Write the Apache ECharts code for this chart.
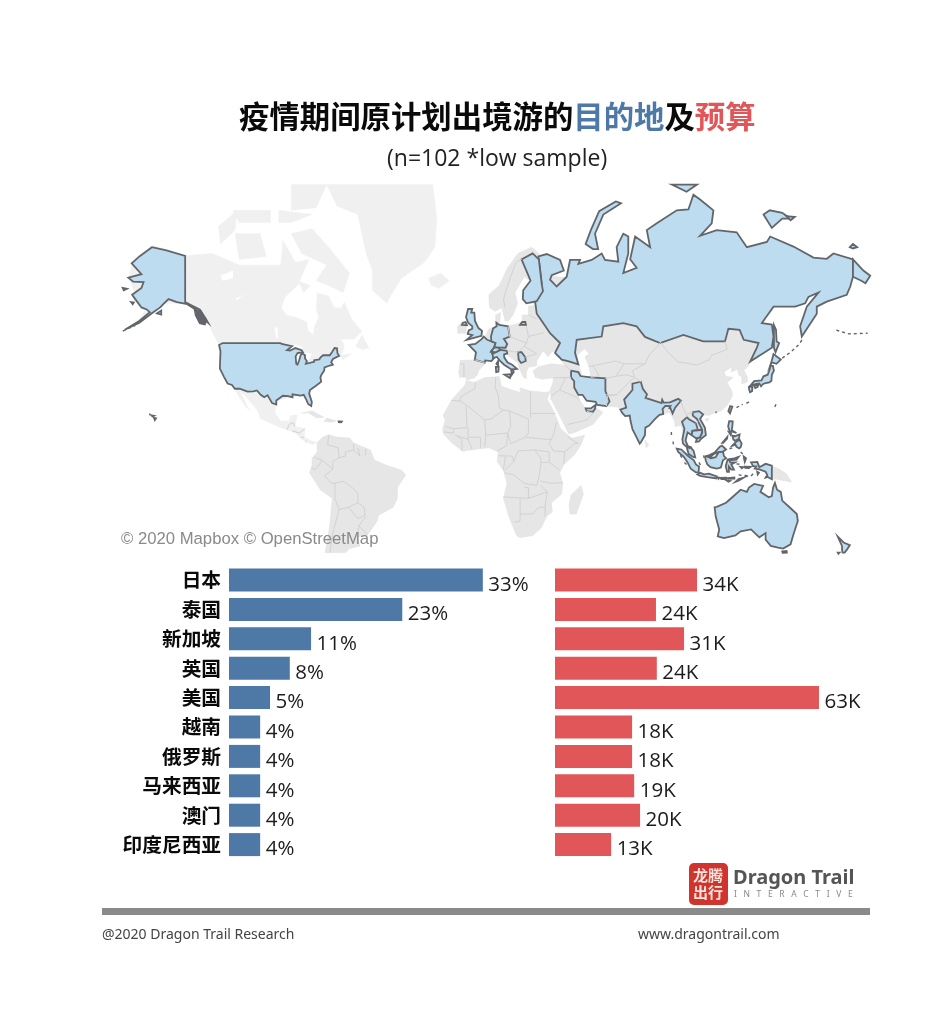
<!DOCTYPE html>
<html><head><meta charset="utf-8">
<style>html,body{margin:0;padding:0;background:#fff}#c{width:936px;height:1014px}</style>
<script src="https://cdn.jsdelivr.net/npm/echarts@6/dist/echarts.min.js"></script>
</head><body><div id="c"></div>
<script>
const destinations=['日本','泰国','新加坡','英国','美国','越南','俄罗斯','马来西亚','澳门','印度尼西亚'];
const shareValues=[33.4,22.8,10.8,8.0,5.4,4.1,4.1,4.1,4.1,4.1];
const budgetValues=[33.9,24.1,30.8,24.3,63.0,18.4,18.4,18.9,20.3,13.4];

const paleLand={
 Greenland:[[-73,78.7],[-68,76.5],[-58,75.5],[-54,70],[-51,67],[-51,63],[-44,60],[-42,62],[-37,65.5],[-26,68.5],[-21,71],[-20,75],[-22,78.7]],
 Baffin:[[-90,73],[-80,73.7],[-72,71],[-62,66.5],[-65,62.5],[-72,64],[-78,65],[-73,68],[-85,70]],
 Victoria:[[-117,73],[-105,73],[-102,69.5],[-115,69]],
 Banks:[[-125,74],[-116,76],[-117,73.5],[-124,71.5]],
 Ellesmere:[[-90,78.7],[-73,78.7],[-78,76.3],[-90,76]],
 Devon:[[-96,76],[-80,75.5],[-90,74.5],[-96,74.5]],
 Melville:[[-118,76],[-100,76],[-100,74.5],[-115,74.5]],
 Southampton:[[-87,65],[-81,64],[-84,62.5]],
 Newfoundland:[[-59,48],[-56,51.5],[-52.7,47.5],[-56,46.8]],
 Iceland:[[-24,65.5],[-18,66.5],[-14,65],[-19,63.4],[-22.5,64]],
 NorthAmerica:[[-168,65.7],[-166.5,68.3],[-156.5,71.3],[-141,69.6],[-128,70],[-115,68],[-108,68],[-95,68],[-94,72],[-88,68.5],[-81.5,69],[-85,66],[-87,64],[-93,61.5],[-94.8,59],[-92.5,57],[-88,56.5],[-82.5,55.2],[-82,52.9],[-79.5,51.5],[-78.8,54],[-76.8,56.5],[-78,58.7],[-77.5,62.4],[-72,61.7],[-69.5,59],[-66,58.8],[-64.5,60.3],[-61,56],[-56,52.5],[-60,50.2],[-66.5,50.2],[-65,49],[-64.5,47.5],[-66,45],[-61,45.5],[-65,43.5],[-67,44.8],[-74,40.7],[-81,32],[-80.4,25.2],[-84,30],[-89.4,29],[-97.2,27.6],[-97.8,22.2],[-95,18.5],[-91,18.7],[-90.4,21],[-87,21.4],[-88.3,16],[-83.5,15.2],[-83.7,11],[-80,9.2],[-77.5,8.5],[-80,7.5],[-85,10],[-88,13],[-92,14.5],[-96,15.8],[-105,19.8],[-106,23],[-112.5,30],[-114.7,31.5],[-111,25],[-109.5,23],[-112,25],[-115,29],[-117.1,32.5],[-124,40],[-124.7,48.4],[-130,54.7],[-140,60],[-151,60],[-164,55],[-160,58.5],[-165,62]]
};
const greyLand={
 Africa:[[-5.9,35.8],[-2,35],[3,36.9],[10,37.3],[11,33.5],[15,32.3],[20,31],[20,32.8],[25,31.6],[32,31],[34.2,31.3],[33,28],[35.5,24],[37,21],[39.5,15],[43.3,11.8],[45,10.5],[51,12],[49,7],[46,2.5],[41,-2],[39,-6],[40.5,-11],[40,-16],[35,-20],[35.5,-24],[32.8,-26],[30,-31],[26,-34],[20,-34.8],[18.3,-34],[15,-27],[12,-18],[13.7,-11],[12,-5],[9,-0.5],[9.5,4],[5,6],[-4,5],[-7.5,4.3],[-13,8.5],[-16.8,12.5],[-17.3,14.7],[-16,19],[-17,21],[-13,27.7],[-9.7,31],[-6.5,34]],
 Madagascar:[[49.3,-12],[50.4,-16],[47,-25],[44,-25],[43.5,-21],[44.5,-16.5]],
 SouthAmerica:[[-77.5,8.5],[-75,11],[-72,12.2],[-68,11],[-62,10.7],[-60,8.3],[-52,5],[-50,0],[-44,-2.5],[-37,-4.8],[-35,-7],[-39,-13],[-39,-18],[-41,-22],[-48,-25.5],[-48.7,-28],[-53.5,-34],[-58,-34.5],[-57,-38],[-62,-39],[-64,-40.5],[-73.7,-40.5],[-71.5,-30],[-70.3,-18],[-76,-14],[-81.2,-6],[-80,-2.5],[-80,1],[-77.5,4]],
 Cuba:[[-85,22],[-80,23.1],[-74.2,20.2],[-78,20],[-82,22.4]],
 Hispaniola:[[-74.4,18.5],[-72.8,19.9],[-68.4,18.6],[-71,18]],
 Ireland:[[-10,52],[-6,52],[-6,54],[-8,55.2],[-10,54]],
 SriLanka:[[80,9.7],[81.8,7.5],[80.6,6]],
 Hainan:[[108.7,19.3],[110.8,20],[110,18.3]],
 Korea:[[124.5,40],[130.5,42.4],[129.5,41],[127.5,39.7],[129.3,37],[129.3,35.2],[126.5,34.4],[126.6,37],[125,38]],
 Eurasia:[[-9,37],[-9.5,38.7],[-8.8,43.2],[-1.8,43.4],[-1.2,46],[-4.7,48.4],[-1.5,48.7],[1.5,50.2],[3.5,51.4],[5,53.3],[8.5,53.8],[8.2,57],[10.6,57.7],[10.2,55],[11,54],[14.2,54],[18.5,54.7],[21,55.2],[21,57],[24,57.1],[24,59.3],[28,59.6],[30,60],[23,60],[21.3,61],[21.5,63],[25,65],[22,65.8],[17.5,62.5],[18.8,60],[16.5,57],[14.3,55.5],[12.8,55.5],[11.2,59],[8,58],[5.3,59],[5,62],[10,64],[14,67.5],[19,70],[25.5,71],[29,70],[32,66],[60,65],[100,68],[140,64],[145,61],[137,56],[138,50],[133,44],[131,42.8],[130.5,42.4],[124.5,40],[121.5,39],[121.7,40.9],[118,39],[119,37.3],[122.5,37],[119.5,35],[121.8,31.5],[122,29.5],[119.5,25.5],[116.5,23],[113.5,22.2],[110.5,21],[108,21.5],[106,19.5],[108.8,15.5],[109.3,12],[106,9],[104.8,8.7],[105,10],[102.5,12],[100.7,13.5],[99.5,10],[100.3,7],[103.4,4.5],[104.2,1.4],[101,3],[100.3,5.5],[98.3,8],[98.5,12],[97.5,16.5],[94.5,16],[94.3,18.5],[91.8,22.4],[89,21.8],[87,21.3],[85,19.6],[82,16.5],[80,15],[80,12],[78,8.5],[76,11],[74,15],[73,19],[72.7,21],[70.5,20.8],[69,22.3],[67,24.8],[61.5,25.2],[57,25.7],[56.3,27],[52,27.5],[50,30],[48,30],[48.5,28],[50,26],[51.5,24.2],[54,24.2],[56.3,26],[56.5,24.5],[59.8,22.5],[55,17],[45,12.8],[43.3,12.7],[39,21],[35,28],[34.5,28],[34.9,29.5],[34.2,31.3],[35.8,35],[36,36.8],[30.5,36.3],[27.3,37],[26.3,39.5],[29,41],[35,42],[41.5,41.5],[39,44],[37,45],[39,47],[35,46],[33.5,44.5],[31,46.5],[28,43],[28,41.3],[24,40.8],[23,39],[23,36.5],[21.5,37],[19.3,41],[19,42.3],[14,45],[13.8,45.6],[12.3,45.3],[12.4,44.2],[14,42.5],[16,41.8],[18.5,40.2],[16.9,39],[16,38],[15.7,40],[12.3,41.7],[10.5,43],[8.8,44.4],[7,44],[6.2,43],[3.2,43.2],[3,41.8],[0,39.5],[-0.5,38],[-2,36.8],[-5.5,36],[-6.5,37]],
 PapuaNewGuinea:[[141,-2.6],[145,-4.5],[148,-6.5],[150.5,-10.4],[147,-9.8],[143,-9],[141,-9.1]]
};
const waterCutouts={
 Caspian:[[47.5,45],[51,47],[53,45.5],[51,44.5],[53,41],[53.8,37],[50,37.3],[49,40],[47.8,43]],
 Superior:[[-92,46.8],[-88.4,48.5],[-85,47.8],[-84.7,46.6],[-87,46.5]],
 Michigan:[[-87.9,44.6],[-85.5,45.9],[-86.3,43],[-87,41.7],[-87.6,42]],
 Huron:[[-84.5,46],[-80,45.5],[-81.6,43.2],[-83.4,43.9],[-83.4,45]],
 Erie:[[-83,42],[-79,43],[-79,42.6],[-82.5,41.4]],
 Ontario:[[-79.7,43.4],[-76.3,44.1],[-76.4,43.5],[-79,43.2]],
 Winnipeg:[[-98,53.7],[-96.6,53.6],[-96.5,50.5],[-97.2,50.5]],
 GreatSlave:[[-117,61],[-109,62.8],[-113,62],[-116,60.8]],
 GreatBear:[[-124,66],[-118,67],[-118,65.5],[-123,65]],
 Baikal:[[104,51.6],[110,55.5],[109,55.6],[104.5,52]]
};
const visitedLand={
 Russia:[[30.4,64.3],[29,69],[28.8,69.5],[32.8,69.9],[39.2,68.9],[41,67],[35.2,66.1],[34.4,65.2],[37.6,63.8],[42.4,65.8],[44,68.9],[48.8,68.9],[48,68.2],[54.4,68.9],[59.2,70],[60.8,68.9],[67.2,68.6],[66.4,71],[69.6,73],[72,72.6],[72,70],[69.6,66.5],[76,67.5],[72.9,69],[75.3,72.6],[82.5,71],[80.9,73.5],[85.7,74.4],[95.3,76],[100.9,76.1],[103.3,77.7],[106.5,77.2],[112.9,76],[112.1,74.4],[106.5,72.7],[114.5,73.5],[124.1,73.2],[129,71],[138.6,71.8],[140.2,72.6],[151.4,71.1],[161,69.3],[167.4,69.1],[170.6,70],[180,69],[180,65.8],[178.7,63.8],[177,62],[167.4,60.4],[162.6,59.2],[162.6,57.4],[155.4,51],[154.6,54],[157.8,59.2],[163.4,62.5],[158.6,61.5],[157,60],[152.2,59.2],[141.8,59.2],[136.2,54.9],[141,54.5],[141.8,51],[141,47.5],[130.6,42.8],[133.8,47.5],[134.6,49],[127.5,50],[125.5,53],[120.1,53.3],[118.5,49.5],[108,49.5],[98.5,51.5],[87.3,49],[80,50.9],[76,54],[69.6,54.9],[60,54],[59.2,51],[47.2,50],[46.4,45.8],[48,41.8],[43,43],[40,43.5],[36.8,45.8],[39.2,49],[34.4,52],[31,55],[28,57.4],[27.2,60.4]],
 RussiaEast:[[180,69],[185,67],[188.3,66],[186,64.5],[184,65],[180,65.8]],
 Kaliningrad:[[20,54.4],[22.8,54.4],[22.5,55.2],[21,55.2]],
 Sakhalin:[[142,54.3],[143,53],[143.3,49.5],[144.5,49],[142.8,46],[142,47.5],[142,50.5]],
 NovayaZemlya:[[51.5,71.5],[55,70.7],[57.5,70.7],[56,73],[60,75.5],[68.5,76.8],[66,77],[58,75.9],[54,73.5]],
 Severnaya:[[93,78.7],[105,78.7],[100,78]],
 NewSiberian:[[137,75.5],[141,73.8],[146,75],[150,75],[146,75.7],[140,76]],
 Kotelny:[[148,75.3],[150,74.8],[152,75.2]],
 Wrangel:[[178.5,71],[180,71.5],[182,71],[180,70.8]],
 Finland:[[21.3,61],[21.5,63],[25,65],[24,66],[20.7,69],[26,70],[29,69],[30.4,64.3],[31,62.8],[28,60.5],[23,60]],
 UnitedKingdom:[[-5.7,50],[1.4,51.2],[1.7,52.7],[0,53.5],[-1.7,55.5],[-2,57.7],[-3.5,57.7],[-3,58.6],[-5,58.6],[-6,56.5],[-5,55],[-3,54],[-3,53.3],[-4.7,52.8],[-5.2,51.8],[-3,51.4]],
 NorthernIreland:[[-8,54.4],[-5.6,54.3],[-6.2,55.2],[-7.5,55]],
 France:[[-4.7,48.4],[-1.5,48.7],[1.5,50.2],[2.5,51],[4.2,50],[8.2,49],[7.5,47.6],[6.1,46.3],[7.5,44],[6.2,43],[3.2,43.2],[3,42.4],[-1.8,43.4],[-1.2,46]],
 Corsica:[[8.6,42],[9.4,43],[9.4,41.5]],
 Germany:[[6,51],[7,53.4],[8.7,54],[8.6,55],[10,54.4],[14.2,54],[15,51],[12.2,50.3],[13.8,48.7],[13,47.5],[7.6,47.6],[8.2,49],[6.2,49.5]],
 Switzerland:[[6,46.2],[7.6,47.6],[9.6,47.5],[10.4,46.8],[8.5,46]],
 Italy:[[6.8,45.5],[7,44],[8.8,44.4],[10.5,43],[12.3,41.7],[15.7,40],[16,38],[16.9,39],[16.5,40],[18.5,40.2],[16,41.8],[14,42.5],[12.4,44.2],[12.3,45.3],[13.8,45.6],[13.7,46.5],[10.5,46.8],[8.5,46]],
 Sardinia:[[8.3,40.9],[9.7,41],[9.6,39.2],[8.5,39]],
 Sicily:[[12.5,38],[15.6,38.2],[15.1,36.7]],
 Serbia:[[19,46],[20.7,46],[22.5,44.3],[22.7,43],[20.5,42.3],[19.3,43.5]],
 Iran:[[44.5,39.5],[48,39],[49,37.5],[54,37],[61,36.6],[61,31.5],[63,27.2],[61.5,25.2],[57,25.7],[56.3,27],[52,27.5],[50,30],[48,30],[46,33],[46,35.5],[44.5,37]],
 UAE:[[51.5,24.2],[54,24.2],[56.3,25.8],[56,24],[55,22.7],[52,23]],
 India:[[68.2,23.7],[71,24.5],[70,28],[74,32],[74,34.5],[78,35.3],[79,32.5],[81,30.2],[80.3,28.7],[88,26.5],[88.3,27.9],[89,26.7],[92,26.8],[96,28.3],[97.3,27.5],[94.5,24.5],[93.3,22],[92,24.8],[91.5,24],[92.3,25.2],[89.8,25.3],[88.5,24],[88.8,21.7],[87,21.3],[85,19.6],[82,16.5],[80.2,15.5],[80,12],[78,8.5],[77.5,8],[76,11],[74,14.8],[73,19],[72.7,21],[70.5,20.8],[69,22.3]],
 Thailand:[[98,10],[98.3,8],[100,6.5],[101.5,5.8],[102,6.2],[100.5,7],[99.5,9.5],[100.5,13.3],[102.5,12],[102.8,14],[105.5,14.3],[104.5,17.5],[101,19.5],[100.2,20.3],[97.8,18.2],[99,15]],
 Cambodia:[[102.5,12],[104.5,10.5],[106.5,11],[107.5,13],[107.5,14.5],[105.5,14.3],[102.8,14]],
 Vietnam:[[104.5,8.8],[105,10.3],[106.5,11],[107.5,13],[107.5,14.5],[105.5,18.5],[105,19.5],[103,21],[103,22.5],[106,23],[108,21.5],[106.5,19.5],[108.8,15.5],[109.3,12],[107,10.3],[106,9]],
 MalaysiaPeninsula:[[100.2,6.5],[101.5,5.8],[102,6.2],[103.4,4.5],[104.2,1.4],[103.4,1.5],[101,3],[100.3,5.5]],
 Kalimantan:[[109,1.5],[109.6,2],[111.7,1],[114,1.5],[115.5,4],[117.5,4.2],[118,2],[119,1],[117.5,0],[116.5,-3.5],[114.5,-4],[111.5,-3.3],[110,-2],[109.2,0]],
 Sabah:[[109.6,2],[111.5,1.6],[113,3],[115.5,4],[117.5,4.2],[119,5.2],[117,7],[116,6.5],[113.5,3.7],[111,2.5]],
 Sumatra:[[95.3,5.6],[97.5,5.2],[100.5,2.3],[103.5,0],[104.5,-2],[106,-3],[105.8,-5.8],[104.5,-5.8],[102,-4],[100.5,-1],[98.7,1.7],[96,4]],
 Java:[[105.2,-6.8],[106.5,-6],[108.5,-6.7],[110.8,-6.4],[114.5,-7.7],[114.4,-8.7],[110,-8.1],[106.5,-7.5]],
 Bali:[[115,-8.2],[115.6,-8.3],[115.4,-8.8]],
 Lombok:[[116,-8.4],[119,-8.3],[119,-9],[116.8,-9]],
 Flores:[[119.8,-8.5],[123,-8.2],[123,-8.8],[120,-8.9]],
 Sumba:[[119.2,-9.6],[120.8,-9.9],[120.2,-10.2]],
 Timor:[[123.5,-10.3],[125,-9],[127.3,-8.4],[125,-9.8]],
 Sulawesi:[[119.5,-5.5],[120.4,-5.5],[120.3,-3],[121.5,-4.5],[122.8,-4.5],[121.5,-2],[123.3,-1],[121,-1],[120.3,0.5],[123,0.9],[125,1.6],[124,0.3],[120.5,0],[119.7,0.2],[118.8,-2.7]],
 Halmahera:[[127.5,1.8],[128.6,1],[128,-0.7],[127.7,0.5]],
 Seram:[[128,-3],[130.8,-3.1],[130,-3.7],[128.2,-3.6]],
 Buru:[[126,-3.2],[127.2,-3.3],[126.6,-3.8]],
 Aru:[[134,-5.5],[134.8,-6],[134.2,-6.8]],
 PapuaIndonesia:[[131,-1],[134,-0.8],[135,-3.3],[138,-1.7],[141,-2.6],[141,-9.1],[139,-8],[138,-8.3],[138.8,-7],[138,-5.5],[135,-4.4],[132.8,-4],[133.5,-3],[132,-2.8]],
 Luzon:[[120.5,18.5],[122.2,18.4],[122,16],[121.7,14.3],[124,13],[124,12.6],[122.5,13.5],[120.7,13.8],[120,16]],
 Visayas:[[122,11.8],[123.2,11.5],[125.5,12.4],[125.2,10.3],[123.3,9.3],[122.5,10]],
 Mindoro:[[120.4,13.4],[121.4,13],[121.2,12.2]],
 Palawan:[[117.2,8.4],[119.6,11.2],[119.5,10.4],[117.6,8.4]],
 Mindanao:[[122,7],[123.5,8.6],[125.5,9.8],[126.5,8],[126,6.3],[125.3,5.7],[124,6.5],[123.5,7.5]],
 Taiwan:[[121,25.2],[122,25],[120.9,22],[120.1,23]],
 HongKong:[[113.9,22.5],[114.5,22.5],[114.2,22.1]],
 Honshu:[[130.9,34],[132.5,35.5],[136,35.8],[137,37.4],[139,38],[140,40],[140.3,41.3],[141.5,41.3],[142,39.5],[141,38],[140.8,35.7],[139.8,35],[138,34.7],[136.8,34.4],[135.8,33.5],[135,34.6],[132.5,34.2]],
 Kyushu:[[130,33.3],[131.7,33.6],[131.5,31.5],[130.5,31.1],[130,32.5]],
 Shikoku:[[132.5,33.8],[134.5,34.2],[134.2,33.3],[133,32.8]],
 Hokkaido:[[140.3,41.6],[141,43.2],[141.8,45.4],[145.3,43.5],[143.2,42],[141,42.5]],
 Australia:[[113.5,-22],[114,-26],[115.7,-31.5],[115,-34.3],[118,-35],[123.5,-33.9],[126,-32.3],[131,-31.5],[135,-34.7],[138,-33],[138,-35.6],[140.5,-38],[144,-38.7],[146.4,-39],[150,-37.4],[151.3,-33.8],[153.5,-28],[153,-25],[149.5,-22],[146,-19],[145.3,-15],[143.5,-14],[142.5,-10.8],[141.6,-13],[141,-17],[139.5,-17.5],[135.5,-15],[136.8,-12.2],[132.5,-11.3],[130,-13],[129,-15],[126,-14],[122,-17.5],[119,-20],[114.5,-21.8]],
 Tasmania:[[146,-40.1],[148.1,-39.9],[148.2,-40.5],[146.2,-40.6]],
 NewZealandNorth:[[172.7,-34.4],[175.5,-36.7],[178.5,-37.7],[177,-39.5],[176,-40.5],[175,-40.5],[174.8,-39.7],[174.7,-38]],
 NewZealandSouth:[[172.7,-40.5],[173.5,-40.5],[173,-40.9]],
 UnitedStates:[[-124.7,48.4],[-123,49],[-95.2,49],[-94.6,48.7],[-89.6,48],[-92,46.7],[-90.5,46.6],[-88,47.4],[-85,46.7],[-84.4,46],[-85.5,45.9],[-87,45.7],[-87.9,44.6],[-87.6,42],[-87,41.7],[-86.3,43],[-85.5,45],[-84.7,45.7],[-83.4,45],[-83.4,43.9],[-82.5,43],[-83,42],[-79,42.7],[-79,43.3],[-76.5,43.6],[-76,44.2],[-74.7,45],[-71.5,45],[-70.3,46.2],[-69.2,47.4],[-68,47.3],[-67.8,45.7],[-67,44.8],[-70,43.7],[-70.8,42.6],[-70,41.7],[-71.5,41.4],[-74,40.7],[-74.2,39.5],[-75.5,38],[-76,36.9],[-75.6,35.3],[-77.8,33.9],[-81,32],[-81.4,30.5],[-80.1,26.9],[-80.4,25.2],[-81.8,26],[-82.8,28],[-84,30],[-85.5,29.7],[-89.4,30.2],[-89.4,29],[-91.5,29.5],[-94,29.6],[-97.2,27.6],[-97.2,25.9],[-99.2,26.5],[-101.4,29.8],[-103,29],[-104.7,30],[-106.5,31.8],[-108.2,31.4],[-111,31.3],[-114.8,32.5],[-117.1,32.5],[-118.5,34],[-120.6,34.6],[-122.4,37.3],[-124.3,40.3],[-124.2,43],[-124,46.2]],
 Alaska:[[-141,69.6],[-141,60.3],[-138,59.5],[-134,58.5],[-131,56],[-130,55],[-133,56.5],[-136,58.5],[-140,59.8],[-145,60.3],[-149,61],[-151.5,59.8],[-153,59],[-157,57.5],[-163,55],[-170,53],[-163.5,55.3],[-158,57.8],[-159.5,58.5],[-162,59],[-165,61],[-166.5,62],[-162,63.5],[-161,64.7],[-166,64.8],[-168.3,65.6],[-162,66.3],[-166.7,68.3],[-163,69.5],[-157,71],[-150,70.5]],
 Kodiak:[[-154.5,57.5],[-152.5,58.2],[-152.5,57.2]],
 StLawrence:[[-171,63.5],[-169,63.3],[-170.5,63]],
 Nunivak:[[-167,60.3],[-165.7,60.2],[-166.2,59.8]],
 HawaiiBig:[[-156,20],[-155,19.8],[-155.6,19]],
 Maui:[[-157.2,21.1],[-156,20.9],[-156.7,20.6]],
 Oahu:[[-158.3,21.6],[-157.7,21.5],[-158,21.2]]
};
const darkLand={
 Alexander:[[-136.5,58.5],[-133.5,58.2],[-130.8,55.5],[-131.5,54.5],[-134,54.8],[-136,57]],
 PuertoRico:[[-67.3,18.5],[-65.6,18.4],[-66,17.9],[-67.2,18]]
};
const greyBorders=[
 [[-1.5,35],[-1.7,32.5],[-5,31],[-8.7,29],[-8.7,27.3],[-13,27.7]],[[-8.7,27.3],[-4.8,25],[3,19],[6,19.5],[12,23.5]],[[8.3,37],[8,33],[9.5,30],[10,24.5],[12,23.5],[15,23],[24,19.5]],[[25,31.6],[25,20]],[[25,22],[37,22]],[[24,19.5],[24,13],[22.5,11]],[[-16,16],[-12,15],[-5.5,15.5],[-6,25]],[[3,19],[3.5,12],[14,13],[15.5,16],[15,23]],[[3,6.4],[3.5,12]],[[14,13],[13.5,7],[9,4.5]],[[14,13],[15.5,8],[22.5,11],[33,10],[35,10]],[[37.5,18],[36,12],[34,8],[36,4.5],[41.5,4],[46,8],[48,8],[43,11]],[[12.5,-6],[17,-7],[22,-11],[28,-12],[29,-8],[30,-2],[30,1],[27,5],[19,4.5],[17,-0.5],[12.5,-5]],[[27,5],[34,4]],[[30,-1],[34,-1],[39,-4.7]],[[34,-1],[34,4]],[[41.5,4],[41,-2]],[[12,-17.3],[24,-18],[24,-13],[22,-13]],[[24,-18],[33,-15],[30,-12]],[[30,-10],[35,-11],[40.5,-10.7]],[[33,-15],[32,-22],[32,-26]],[[17,-28.5],[20,-28],[20,-18]],[[20,-25],[26,-25],[29,-22],[32,-22]],[[-8,4.5],[-8,10],[-11,12],[-5,10],[-3,5]],[[1,6],[1,11],[-5,11]],[[-5,10],[-5,15.5]],[[9.8,2.2],[16,2],[17,-0.5]],[[13,2],[12,-4.5]],[[-16.7,13.5],[-12,13],[-12,15]],
 [[-72,12],[-72.5,7.5],[-67.5,6],[-67,1.2]],[[-67,1.2],[-70,-0.5],[-70,-4.2]],[[-70,-4.2],[-75,0],[-78.8,1.4]],[[-75,0],[-78.5,-4.5],[-80.3,-3.5]],[[-70,-4.2],[-74,-7.5],[-70.6,-11],[-69,-11]],[[-69,-11],[-65,-10],[-60,-13.5],[-58,-16],[-58,-20],[-62.5,-22],[-67,-23],[-69,-18],[-69,-11]],[[-58,-20],[-55,-22],[-54.5,-25.5],[-58,-27],[-62.5,-22]],[[-67,-23],[-70,-33],[-71.5,-40.5]],[[-58,-33],[-57.5,-30],[-53.5,-33.5]],[[-57.5,-30],[-54,-26]],[[-60,8],[-60,5],[-64,4],[-64,2],[-67,1.2]],[[-60,5],[-57,2],[-58,6]],[[-54,5.5],[-54.5,2.3]],[[-92,14.5],[-91,17],[-89,17.8]],[[-89,17.8],[-88.3,16]],[[-89.5,14],[-86,13],[-83.5,15]],[[-85.5,11],[-83.7,11]],[[-83,8.5],[-82.7,9.5]],
 [[87.5,49.2],[91,46],[96,42.7],[105,41.6],[111,43.5],[112,45],[116,46],[119.5,47],[118.5,49.5]],[[55,41.3],[66,43],[70,42],[80,42],[82,45],[87.5,49.2]],[[80,42],[74,39.5],[75,37],[78,35.3]],[[61,36.6],[66,37.4],[71,38],[75,37],[71,34],[66.5,30],[61,30]],[[66.5,30],[62,29.5],[61.5,25.2]],[[53,41],[55,41.3],[58,37.5],[54,37]],[[66,37.4],[70,42]],[[97.3,27.5],[98.5,24],[100,21.5],[100.2,20.3]],[[103,22.5],[100,21.5]],[[105.5,18.5],[104.5,17.5]],[[34.9,29.5],[39,32],[47,29],[48.5,28]],[[52,23],[55,22],[52,19],[43,17]],[[36,36.8],[44.5,37]],[[41.5,41.5],[44.5,39.5]],[[39,32],[42,37]],[[14.2,54],[15,51],[23,49],[24,51],[23,54]],[[23,49],[22,48],[28,45.5]],[[19,46],[22,48]],[[28,45.5],[22.5,44.3]],[[12.8,59],[12,61],[14,64],[18,68.5],[20.7,69]],[[28,56],[24,57.1]],[[24,51],[31.5,52.2]],[[13.7,46.5],[19,46]],[[-8.8,42],[-7,42],[-7,37.2]],[[-1.8,43.4],[3,42.4]]
];
const darkIslandChains=[
 [[-171,52.6],[-168,53.5],[-165,54.2]],
 [[146,44],[150,46],[154,48.5],[156,50.5]],[[172,52.9],[178,51.8],[187,52]],
 [[92.7,13.5],[92.8,11]],[[93.5,9],[93.8,7]],[[97,2.5],[98.5,0]],[[99,-1],[101,-3]],[[125,-7],[130,-7.5]],[[131,-7.5],[133,-5.5]],[[122,6],[120,5.3]],[[124,-1.7],[126,-2]],[[106,-1],[107,-3]],[[108.5,1],[108,3.5]],[[126,4],[127,3]],[[128,-7.5],[130,-8]],
 [[143,26],[142,24]],[[130,27],[128,26]],[[124,24.5],[127,26]]
];

const PI=Math.PI,MAP_SCALE=119.2,MAP_X=478.5,MAP_Y=460.3;
const project=([lon,lat])=>[MAP_X+MAP_SCALE*lon*PI/180,MAP_Y-MAP_SCALE*Math.log(Math.tan(PI/4+lat*PI/360))];
const unproject=([x,y])=>[(x-MAP_X)/MAP_SCALE*180/PI,(2*Math.atan(Math.exp((MAP_Y-y)/MAP_SCALE))-PI/2)*180/PI];
const frame=[100,180,780,385];
const feature=(name,ring)=>({type:'Feature',properties:{name},geometry:{type:'Polygon',coordinates:[[...ring,ring[0]]]}});
const groups=[paleLand,greyLand,waterCutouts,visitedLand,darkLand];
const features=groups.flatMap(g=>Object.keys(g).map(k=>feature(k,g[k])));
echarts.registerMap('world',{type:'FeatureCollection',features});
const paint=(g,fill,stroke,w)=>Object.keys(g).map(name=>({name,silent:true,itemStyle:{areaColor:fill,borderColor:stroke,borderWidth:w},emphasis:{disabled:true}}));
const regions=[...paint(paleLand,'#f0f0f0','#f0f0f0',0.5),...paint(greyLand,'#e6e6e6','#dedede',0.5),...paint(waterCutouts,'#ffffff','#ffffff',0),...paint(visitedLand,'#bddcef','#62666a',1.8),...paint(darkLand,'#62666a','#62666a',1.5)];

const CJK='"Noto Sans CJK SC"';
const valueStyle={fontFamily:'"Open Sans"',fontSize:20.5,color:'#1c1c1c',offset:[0,5],distance:5.5};
const chart=echarts.init(document.getElementById('c'),null,{renderer:'canvas'});
const titleFont={fontFamily:CJK,fontSize:30.4,fontWeight:'bold'};
chart.setOption({
 animation:false,backgroundColor:'#fff',
 title:[{text:'{a|疫情期间原计划出境游的}{b|目的地}{a|及}{c|预算}',left:234,top:96,textStyle:{rich:{a:{...titleFont,color:'#0a0a0a'},b:{...titleFont,color:'#4e79a7'},c:{...titleFont,color:'#e15759'}}}},
 {text:'(n=102 *low sample)',left:382,top:143,textStyle:{fontFamily:'"Open Sans"',fontSize:23,fontWeight:'normal',color:'#222'}}],
 geo:{map:'world',roam:false,silent:true,left:frame[0],top:frame[1],width:frame[2],height:frame[3],
  boundingCoords:[unproject([frame[0],frame[1]]),unproject([frame[0]+frame[2],frame[1]+frame[3]])],
  projection:{project,unproject},itemStyle:{areaColor:'#e6e6e6',borderColor:'#dedede',borderWidth:0.5},regions,label:{show:false},emphasis:{disabled:true},z:1},
 grid:[{left:229,top:565.3,width:304,height:294},{left:555,top:565.3,width:335.2,height:294}],
 xAxis:[{gridIndex:0,type:'value',min:0,max:40,show:false},{gridIndex:1,type:'value',min:0,max:80,show:false}],
 yAxis:[{gridIndex:0,type:'category',inverse:true,data:destinations,axisLine:{show:false},axisTick:{show:false},axisLabel:{margin:8,fontFamily:CJK,fontWeight:'bold',fontSize:19.7,color:'#0a0a0a'}},
  {gridIndex:1,type:'category',inverse:true,data:destinations,axisLine:{show:false},axisTick:{show:false},axisLabel:{show:false}}],
 series:[
  {type:'lines',coordinateSystem:'geo',polyline:true,silent:true,z:2,lineStyle:{color:'#d2d2d2',width:1,opacity:1},data:greyBorders.map(coords=>({coords}))},
  {type:'lines',coordinateSystem:'geo',polyline:true,silent:true,z:3,lineStyle:{color:'#62666a',width:1.4,opacity:1,type:[3,3]},data:darkIslandChains.map(coords=>({coords}))},
  {type:'bar',xAxisIndex:0,yAxisIndex:0,data:shareValues,barWidth:23,itemStyle:{color:'#4e79a7'},silent:true,label:{show:true,position:'right',formatter:p=>Math.round(p.value)+'%',...valueStyle}},
  {type:'bar',xAxisIndex:1,yAxisIndex:1,data:budgetValues,barWidth:23,itemStyle:{color:'#e15759'},silent:true,label:{show:true,position:'right',formatter:p=>Math.round(p.value)+'K',...valueStyle}}
 ],
 graphic:[
  {type:'text',left:121,top:531,z:10,style:{text:'© 2020 Mapbox © OpenStreetMap',font:'16.7px "Liberation Sans"',fill:'#8a8a8a'}},
  {type:'rect',shape:{x:102,y:908,width:768,height:7},style:{fill:'#8a8a8a'}},
  {type:'text',left:102,top:928,style:{text:'@2020 Dragon Trail Research',font:'14px "Noto Sans"',fill:'#444'}},
  {type:'text',left:638,top:928,style:{text:'www.dragontrail.com',font:'14px "Noto Sans"',fill:'#444'}},
  {type:'rect',shape:{x:689,y:863,width:39,height:42,r:5},style:{fill:'#d0342c'}},
  {type:'text',left:693,top:867,style:{text:'龙腾\n出行',font:'bold 15px '+CJK,fill:'#f7e4df',lineHeight:17}},
  {type:'text',left:733,top:868,style:{text:'Dragon Trail',font:'bold 20px "Noto Sans"',fill:'#555'}},
  {type:'text',left:734,top:890,style:{text:'I   N   T   E   R   A   C   T   I   V   E',font:'8.5px "Noto Sans"',fill:'#888'}}
 ]
});
</script></body></html>
